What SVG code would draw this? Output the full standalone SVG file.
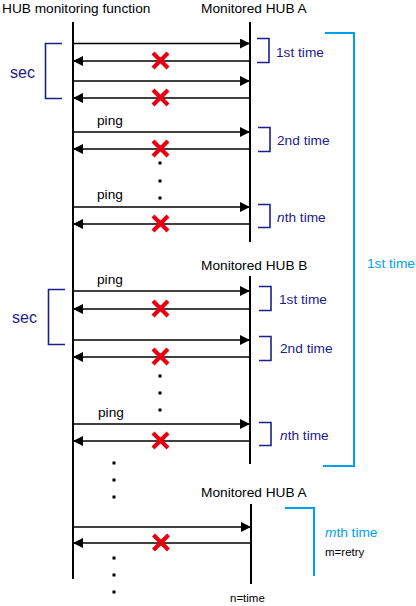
<svg xmlns="http://www.w3.org/2000/svg" width="416" height="606" viewBox="0 0 416 606">
<defs>
<marker id="ah" viewBox="0 0 10 10" refX="10" refY="5" markerWidth="10" markerHeight="10" markerUnits="userSpaceOnUse" orient="auto">
<path d="M0 0 L10 5 L0 10 Z" fill="#000"/>
</marker>
<g id="x"><path d="M-7.5 -7.5 L7.5 7.5 M7.5 -7.5 L-7.5 7.5" stroke="#e60012" stroke-width="4.2"/></g>
</defs>
<style>
text{font-family:"Liberation Sans",Arial,sans-serif;font-size:13.7px;fill:#000}
.life{stroke:#000;stroke-width:2;fill:none}
.msg{stroke:#000;stroke-width:1.6;fill:none;marker-end:url(#ah)}
.br{stroke:#1d2088;stroke-width:1.6;fill:none}
.bt{fill:#1d2088}
.lb{stroke:#00a0e9;stroke-width:2;fill:none}
.lt{fill:#00a0e9}
.sm{font-size:11.5px}
.sec{font-size:16px;fill:#1d2088}
.dot{fill:#000}
</style>
<g id="monitor">
<text x="2" y="13">HUB monitoring function</text>
<line class="life" x1="73" y1="22" x2="73" y2="579"/>
</g>
<g id="hubA1">
<text x="201" y="13">Monitored HUB A</text>
<line class="life" x1="250" y1="22" x2="250" y2="242"/>
</g>
<g id="hubB">
<text x="201" y="270">Monitored HUB B</text>
<line class="life" x1="250" y1="276" x2="250" y2="464"/>
</g>
<g id="hubA2">
<text x="201" y="497">Monitored HUB A</text>
<line class="life" x1="251" y1="504" x2="251" y2="584"/>
</g>
<g id="connectors">
<line class="msg" x1="74" y1="43.5" x2="250" y2="43.5"/>
<line class="msg" x1="249" y1="61" x2="73" y2="61"/>
<line class="msg" x1="74" y1="81" x2="250" y2="81"/>
<line class="msg" x1="249" y1="98" x2="73" y2="98"/>
<line class="msg" x1="74" y1="132" x2="250" y2="132"/>
<line class="msg" x1="249" y1="149" x2="73" y2="149"/>
<line class="msg" x1="74" y1="207" x2="250" y2="207"/>
<line class="msg" x1="249" y1="224" x2="73" y2="224"/>
<line class="msg" x1="74" y1="291" x2="250" y2="291"/>
<line class="msg" x1="249" y1="309" x2="73" y2="309"/>
<line class="msg" x1="74" y1="340" x2="250" y2="340"/>
<line class="msg" x1="249" y1="357" x2="73" y2="357"/>
<line class="msg" x1="74" y1="424" x2="250" y2="424"/>
<line class="msg" x1="249" y1="441" x2="73" y2="441"/>
<line class="msg" x1="74" y1="527" x2="251" y2="527"/>
<line class="msg" x1="250" y1="543" x2="73" y2="543"/>
</g>
<g id="failures">
<use href="#x" x="160.5" y="60.5"/>
<use href="#x" x="160.5" y="97.5"/>
<use href="#x" x="160.5" y="148.5"/>
<use href="#x" x="160.5" y="223.5"/>
<use href="#x" x="160.5" y="308.5"/>
<use href="#x" x="160.5" y="356.5"/>
<use href="#x" x="160.5" y="440.5"/>
<use href="#x" x="161" y="542.5"/>
</g>
<g id="labels">
<text x="97" y="125">ping</text>
<text x="97" y="199">ping</text>
<text x="97" y="284">ping</text>
<text x="98" y="417">ping</text>
</g>
<g id="dots">
<rect class="dot" x="158.5" y="161.5" width="3" height="3"/>
<rect class="dot" x="158.5" y="179.5" width="3" height="3"/>
<rect class="dot" x="158.5" y="196.5" width="3" height="3"/>
<rect class="dot" x="158.5" y="374.5" width="3" height="3"/>
<rect class="dot" x="158.5" y="391.5" width="3" height="3"/>
<rect class="dot" x="158.5" y="408.5" width="3" height="3"/>
<rect class="dot" x="112.5" y="461.5" width="3" height="3"/>
<rect class="dot" x="112.5" y="478.5" width="3" height="3"/>
<rect class="dot" x="112.5" y="495.5" width="3" height="3"/>
<rect class="dot" x="112.5" y="556.5" width="3" height="3"/>
<rect class="dot" x="112.5" y="573.5" width="3" height="3"/>
<rect class="dot" x="112.5" y="590.5" width="3" height="3"/>
</g>
<g id="sec1">
<path class="br" d="M62 43.5 H45.5 V98.5 H62"/>
<text class="sec" x="10" y="78">sec</text>
</g>
<g id="sec2">
<path class="br" d="M65 289.5 H48.5 V344.5 H65"/>
<text class="sec" x="12" y="323">sec</text>
</g>
<g id="a1st">
<path class="br" d="M257 38.5 H269 V62.5 H257"/>
<text class="bt" x="276" y="57">1st time</text>
</g>
<g id="a2nd">
<path class="br" d="M258 127.5 H270 V151.5 H258"/>
<text class="bt" x="277" y="145">2nd time</text>
</g>
<g id="anth">
<path class="br" d="M258 204.5 H270 V227.5 H258"/>
<text class="bt" x="277" y="222"><tspan font-style="italic">n</tspan>th time</text>
</g>
<g id="b1st">
<path class="br" d="M259 286.5 H271 V310.5 H259"/>
<text class="bt" x="279" y="304">1st time</text>
</g>
<g id="b2nd">
<path class="br" d="M259 336.5 H271 V360.5 H259"/>
<text class="bt" x="280" y="353">2nd time</text>
</g>
<g id="bnth">
<path class="br" d="M259 422.5 H271 V445.5 H259"/>
<text class="bt" x="280" y="440"><tspan font-style="italic">n</tspan>th time</text>
</g>
<g id="round1">
<path class="lb" d="M325 33 H354 V466 H323"/>
<text class="lt" x="367" y="268">1st time</text>
</g>
<g id="roundm">
<path class="lb" d="M285 508 H314 V576"/>
<text class="lt" x="325" y="537"><tspan font-style="italic">m</tspan>th time</text>
<text class="sm" x="325" y="556">m=retry</text>
</g>
<g id="note">
<text class="sm" x="230" y="602">n=time</text>
</g>
</svg>
